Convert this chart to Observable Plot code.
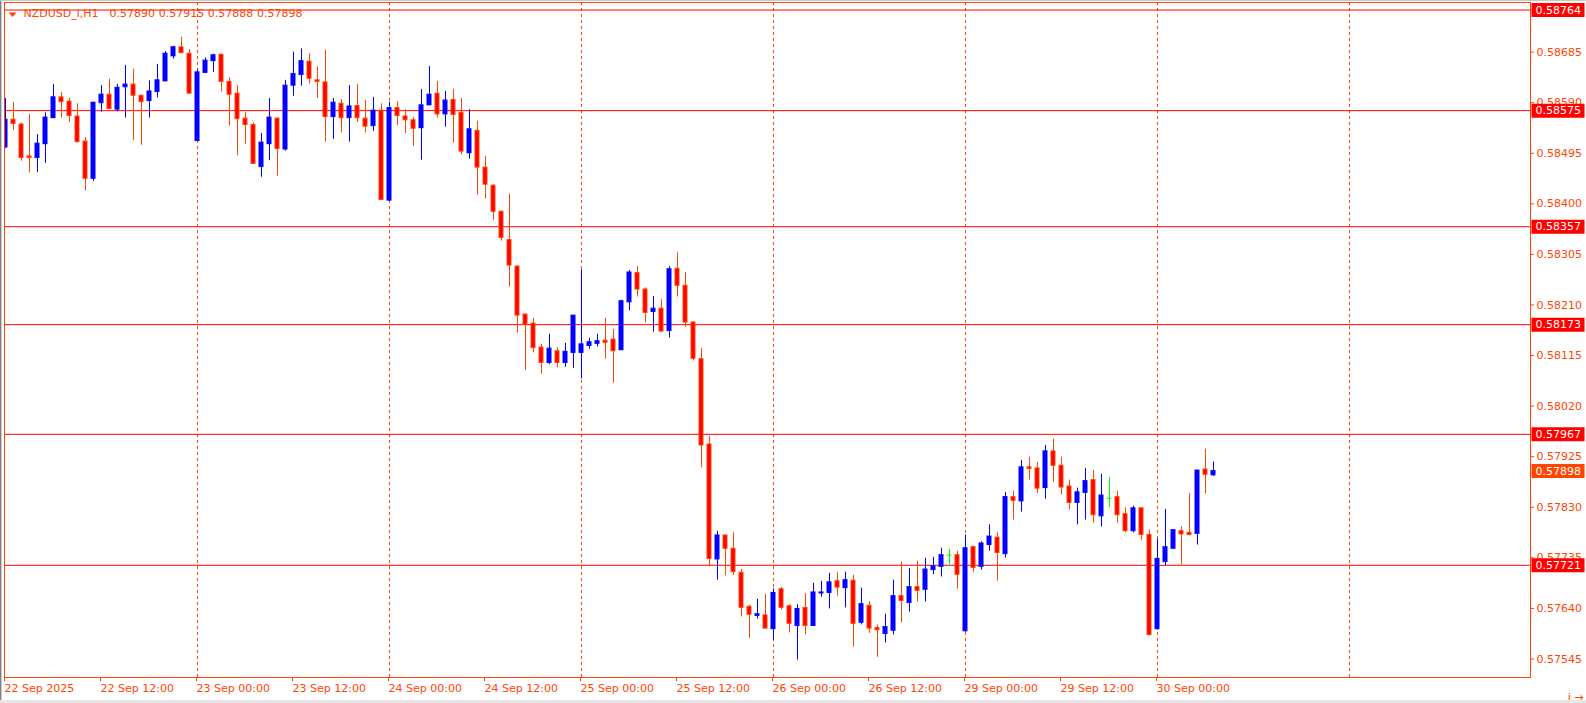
<!DOCTYPE html>
<html><head><meta charset="utf-8">
<script src="https://cdn.jsdelivr.net/npm/d3@7"></script>
<script src="https://cdn.jsdelivr.net/npm/@observablehq/plot@0.6"></script>
<style>
html,body{margin:0;padding:0;background:#fff;overflow:hidden;}
#chart{position:absolute;left:0;top:0;}
.edge{position:absolute;}
</style></head>
<body>
<div id="chart"></div>
<div class="edge" style="left:0;top:0;width:1px;height:703px;background:#808080"></div>
<div class="edge" style="left:1px;top:0;width:1px;height:703px;background:#c8c8c8"></div>
<div class="edge" style="left:0;top:0;width:1586px;height:1px;background:#c8c8c8"></div>
<div class="edge" style="left:0;top:700px;width:1586px;height:3px;background:#e6e6e6"></div>
<script>
const symbolName = "NZDUSD_i,H1";
const openP = [
0.58506,0.58558,0.58549,0.58489,0.58486,0.58512,0.58561,0.58600,0.58592,0.58564,0.58517,0.58447,
0.58589,0.58605,0.58577,0.58619,0.58624,0.58603,0.58593,0.58610,0.58630,0.58677,0.58694,0.58682,
0.58518,0.58646,0.58668,0.58680,0.58629,0.58607,0.58560,0.58548,0.58469,0.58512,0.58560,0.58502,
0.58622,0.58642,0.58667,0.58632,0.58628,0.58563,0.58588,0.58561,0.58584,0.58560,0.58546,0.58575,
0.58406,0.58580,0.58564,0.58557,0.58542,0.58585,0.58607,0.58568,0.58595,0.58571,0.58495,0.58537,
0.58468,0.58434,0.58385,0.58332,0.58282,0.58192,0.58175,0.58130,0.58101,0.58123,0.58101,0.58120,
0.58120,0.58133,0.58137,0.58143,0.58145,0.58125,0.58215,0.58270,0.58239,0.58197,0.58203,0.58161,
0.58278,0.58246,0.58177,0.58108,0.57948,0.57732,0.57777,0.57752,0.57707,0.57643,0.57626,0.57627,
0.57601,0.57676,0.57644,0.57607,0.57641,0.57607,0.57668,0.57669,0.57691,0.57678,0.57692,0.57613,
0.57645,0.57603,0.57592,0.57598,0.57663,0.57650,0.57680,0.57675,0.57712,0.57718,0.57740,0.57740,
0.57597,0.57755,0.57718,0.57759,0.57773,0.57742,0.57849,0.57841,0.57905,0.57903,0.57866,0.57935,
0.57908,0.57869,0.57838,0.57857,0.57881,0.57813,0.57847,0.57849,0.57817,0.57785,0.57828,0.57778,
0.57601,0.57727,0.57752,0.57785,0.57782,0.57780,0.57901,0.57890];
const highP = [
0.58598,0.58590,0.58552,0.58568,0.58530,0.58571,0.58624,0.58609,0.58598,0.58588,0.58524,0.58590,
0.58622,0.58634,0.58624,0.58660,0.58653,0.58604,0.58631,0.58662,0.58686,0.58696,0.58713,0.58690,
0.58652,0.58674,0.58681,0.58681,0.58637,0.58622,0.58572,0.58552,0.58532,0.58598,0.58562,0.58632,
0.58685,0.58691,0.58682,0.58657,0.58688,0.58598,0.58596,0.58622,0.58624,0.58594,0.58600,0.58588,
0.58591,0.58592,0.58577,0.58562,0.58615,0.58658,0.58630,0.58611,0.58615,0.58598,0.58577,0.58555,
0.58489,0.58436,0.58387,0.58418,0.58284,0.58192,0.58185,0.58136,0.58155,0.58130,0.58138,0.58190,
0.58276,0.58147,0.58155,0.58185,0.58164,0.58219,0.58275,0.58282,0.58242,0.58226,0.58220,0.58282,
0.58308,0.58271,0.58179,0.58128,0.57963,0.57785,0.57778,0.57782,0.57713,0.57646,0.57657,0.57666,
0.57677,0.57680,0.57647,0.57647,0.57668,0.57687,0.57691,0.57706,0.57708,0.57708,0.57702,0.57678,
0.57653,0.57609,0.57629,0.57693,0.57727,0.57715,0.57729,0.57734,0.57736,0.57753,0.57751,0.57747,
0.57778,0.57757,0.57765,0.57797,0.57783,0.57858,0.57860,0.57918,0.57924,0.57914,0.57946,0.57958,
0.57924,0.57881,0.57866,0.57903,0.57899,0.57892,0.57886,0.57860,0.57829,0.57832,0.57828,0.57787,
0.57770,0.57826,0.57787,0.57793,0.57856,0.57899,0.57939,0.57915];
const lowP = [
0.58504,0.58538,0.58480,0.58458,0.58459,0.58476,0.58560,0.58561,0.58553,0.58514,0.58424,0.58442,
0.58572,0.58577,0.58573,0.58561,0.58519,0.58510,0.58561,0.58599,0.58630,0.58672,0.58683,0.58607,
0.58518,0.58646,0.58647,0.58610,0.58546,0.58490,0.58512,0.58475,0.58450,0.58481,0.58452,0.58499,
0.58602,0.58621,0.58625,0.58598,0.58516,0.58521,0.58533,0.58516,0.58553,0.58533,0.58536,0.58407,
0.58406,0.58547,0.58532,0.58508,0.58482,0.58585,0.58561,0.58544,0.58514,0.58492,0.58484,0.58416,
0.58409,0.58369,0.58330,0.58244,0.58157,0.58087,0.58120,0.58080,0.58098,0.58092,0.58093,0.58091,
0.58071,0.58127,0.58131,0.58108,0.58063,0.58125,0.58199,0.58225,0.58176,0.58159,0.58159,0.58148,
0.58225,0.58168,0.58105,0.57904,0.57718,0.57693,0.57701,0.57702,0.57624,0.57584,0.57620,0.57602,
0.57580,0.57637,0.57594,0.57543,0.57590,0.57607,0.57661,0.57639,0.57663,0.57641,0.57567,0.57609,
0.57593,0.57548,0.57575,0.57590,0.57613,0.57633,0.57652,0.57652,0.57703,0.57699,0.57718,0.57676,
0.57595,0.57707,0.57712,0.57748,0.57691,0.57735,0.57806,0.57821,0.57881,0.57856,0.57845,0.57877,
0.57853,0.57825,0.57797,0.57806,0.57800,0.57793,0.57829,0.57800,0.57782,0.57782,0.57767,0.57588,
0.57599,0.57720,0.57752,0.57722,0.57776,0.57759,0.57855,0.57888];
const closeP = [
0.58558,0.58550,0.58486,0.58486,0.58513,0.58562,0.58600,0.58591,0.58565,0.58516,0.58447,0.58590,
0.58605,0.58578,0.58618,0.58624,0.58603,0.58591,0.58611,0.58632,0.58682,0.58694,0.58683,0.58607,
0.58647,0.58669,0.58679,0.58629,0.58605,0.58559,0.58548,0.58475,0.58515,0.58562,0.58503,0.58622,
0.58644,0.58668,0.58635,0.58629,0.58563,0.58590,0.58561,0.58583,0.58561,0.58545,0.58575,0.58407,
0.58580,0.58565,0.58557,0.58541,0.58585,0.58605,0.58568,0.58594,0.58567,0.58498,0.58540,0.58468,
0.58436,0.58385,0.58336,0.58284,0.58190,0.58173,0.58129,0.58101,0.58128,0.58101,0.58122,0.58190,
0.58136,0.58140,0.58142,0.58139,0.58123,0.58217,0.58271,0.58239,0.58195,0.58203,0.58160,0.58277,
0.58246,0.58177,0.58109,0.57946,0.57733,0.57777,0.57752,0.57708,0.57641,0.57628,0.57629,0.57602,
0.57669,0.57641,0.57611,0.57639,0.57607,0.57670,0.57670,0.57689,0.57679,0.57693,0.57611,0.57648,
0.57602,0.57599,0.57605,0.57663,0.57654,0.57680,0.57673,0.57713,0.57719,0.57740,0.57740,0.57703,
0.57753,0.57716,0.57762,0.57775,0.57744,0.57849,0.57842,0.57905,0.57902,0.57865,0.57935,0.57908,
0.57867,0.57838,0.57858,0.57879,0.57815,0.57852,0.57847,0.57815,0.57785,0.57828,0.57778,0.57590,
0.57733,0.57755,0.57787,0.57779,0.57778,0.57899,0.57891,0.57898];

// horizontal price levels drawn on the chart
const levelLines = [0.58764, 0.58575, 0.58357, 0.58173, 0.57967, 0.57721];
const currentPrice = 0.57898;
// right price scale ticks
const yTicks = [0.58685,0.58590,0.58495,0.58400,0.58305,0.58210,0.58115,0.58020,0.57925,0.57830,0.57735,0.57640,0.57545];
// time axis: bar index of labels and day separators
const xTickBars = [0,12,24,36,48,60,72,84,96,108,120,132,144];
const xTickLabels = ["22 Sep 2025","22 Sep 12:00","23 Sep 00:00","23 Sep 12:00","24 Sep 00:00","24 Sep 12:00","25 Sep 00:00","25 Sep 12:00","26 Sep 00:00","26 Sep 12:00","29 Sep 00:00","29 Sep 12:00","30 Sep 00:00"];
const dayStartBars = [24,48,72,96,120,144,168];

const FG = "#FF4500", UP = "#0000FF", DOWN = "#FF0000", DOJI = "#00FF00", LEVEL = "#FF0000";

const candles = openP.map((o, i) => ({i, open:o, high:highP[i], low:lowP[i], close:closeP[i]}));
const kind = d => d.close > d.open ? "up" : d.close < d.open ? "down" : "doji";
const wickColor = d => ({up:UP, down:FG, doji:DOJI})[kind(d)];
const bodyFill = d => ({up:UP, down:DOWN, doji:DOJI})[kind(d)];
const bodyStroke = d => ({up:UP, down:FG, doji:DOJI})[kind(d)];

const triSym = {draw(ctx){ ctx.moveTo(-4,-2); ctx.lineTo(4,-2); ctx.lineTo(0,2.5); ctx.closePath(); }};
const boxSym = {draw(ctx){ ctx.rect(1,-7,53,14); }};

const title = symbolName + "\u2002\u2002" + [openP.at(-1), highP.at(-1), lowP.at(-1), closeP.at(-1)].map(v=>v.toFixed(5)).join("\u2004");

const chart = Plot.plot({
  width: 1586, height: 703,
  marginTop: 2, marginRight: 56, marginBottom: 26, marginLeft: 4,
  style: {fontFamily: "'DejaVu Sans', sans-serif", fontSize: "11px", background: "transparent", overflow: "visible"},
  x: {domain: [-0.125, 190.625], axis: null},
  y: {domain: [0.575102, 0.587782], axis: null},
  color: {type: "identity"},
  marks: [
    Plot.ruleX(dayStartBars, {x: d => d, stroke: FG, strokeDasharray: "3,3", clip: true}),
    Plot.ruleY(levelLines, {y: d => d, stroke: LEVEL}),
    Plot.ruleX(candles, {x: "i", y1: "low", y2: "high", stroke: wickColor, clip: true}),
    Plot.rect(candles.filter(d => kind(d) !== "doji"), {x1: d => d.i - 0.25, x2: d => d.i + 0.25, y1: "open", y2: "close", fill: bodyFill, stroke: bodyStroke, strokeWidth: 1, clip: true}),
    Plot.ruleY(candles.filter(d => kind(d) === "doji"), {y: "open", x1: d => d.i - 0.3125, x2: d => d.i + 0.3125, stroke: DOJI, clip: true}),
    Plot.frame({stroke: FG}),
    Plot.axisY(yTicks, {anchor: "right", tickSize: 3, tickPadding: 3, tickFormat: d => d.toFixed(5), color: FG, fontSize: 11}),
    Plot.axisX(xTickBars, {anchor: "bottom", tickSize: 4, tickPadding: 3, tickFormat: d => xTickLabels[xTickBars.indexOf(d)], textAnchor: "start", dx: -1, color: FG, fontSize: 11}),
    Plot.dot(levelLines, {y: d => d, frameAnchor: "right", symbol: boxSym, fill: LEVEL, stroke: null}),
    Plot.text(levelLines, {y: d => d, text: d => d.toFixed(5), frameAnchor: "right", textAnchor: "start", dx: 5, fill: "white", fontSize: 11}),
    Plot.dot([currentPrice], {y: d => d, frameAnchor: "right", symbol: boxSym, fill: FG, stroke: null}),
    Plot.text([currentPrice], {y: d => d, text: d => d.toFixed(5), frameAnchor: "right", textAnchor: "start", dx: 5, fill: "white", fontSize: 11}),
    Plot.dot([0], {frameAnchor: "top-left", dx: 8, dy: 12, symbol: triSym, fill: FG, stroke: null}),
    Plot.text([title], {frameAnchor: "top-left", dx: 19, dy: 11, textAnchor: "start", lineAnchor: "middle", fill: FG, fontSize: 11})
  ]
});
document.getElementById("chart").appendChild(chart);
</script>
</body></html>
